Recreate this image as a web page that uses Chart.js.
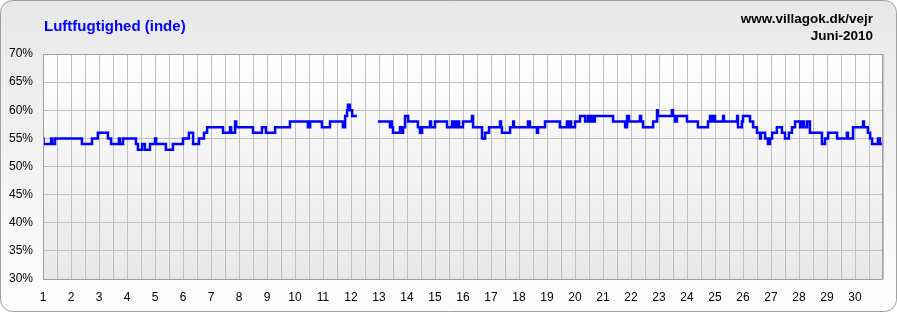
<!doctype html>
<html lang="da">
<head>
  <meta charset="utf-8">
  <title>Luftfugtighed (inde) - Juni 2010</title>
  <script src="https://cdn.jsdelivr.net/npm/chart.js"></script>
  <style>
    html, body { margin: 0; padding: 0; background: #fff; }
    canvas { display: block; }
  </style>
</head>
<body>
  <canvas id="humChart" width="897" height="312"></canvas>

  <script>
    // day of month (fractional) where a new reading starts, and the humidity (%) from there on
    const days = [
      1.00, 1.02, 1.29, 1.33, 1.43, 2.39, 2.75, 2.96, 3.32, 3.43, 3.71, 3.75, 3.86,
      4.32, 4.39, 4.54, 4.64, 4.82, 5.00, 5.04, 5.39, 5.64, 6.00, 6.21, 6.36, 6.57,
      6.75, 6.86, 7.43, 7.68, 7.72, 7.86, 7.90, 8.50, 8.82, 8.96, 9.29, 9.82, 10.46,
      10.54, 10.96, 11.25, 11.71, 11.79, 11.86, 11.89, 11.96, 12.04, 12.21,
      12.50,
      12.96, 13.39, 13.43, 13.46, 13.50, 13.57, 13.75, 13.79, 13.86, 13.93, 14.04,
      14.39, 14.46, 14.54, 14.82, 14.86, 15.00, 15.43, 15.61, 15.64, 15.71, 15.75,
      15.82, 15.86, 16.00, 16.32, 16.36, 16.68, 16.79, 16.93, 17.32, 17.36, 17.39,
      17.68, 17.79, 17.82, 18.32, 18.39, 18.64, 18.68, 18.93, 19.46, 19.71, 19.75,
      19.82, 19.86, 20.00, 20.18, 20.36, 20.46, 20.54, 20.61, 20.64, 20.71, 21.36,
      21.79, 21.86, 21.93, 22.32, 22.36, 22.43, 22.79, 22.93, 22.96, 23.46, 23.50,
      23.57, 23.64, 24.00, 24.39, 24.75, 24.82, 24.86, 24.93, 25.00, 25.29, 25.32,
      25.79, 25.82, 25.96, 26.00, 26.25, 26.36, 26.50, 26.61, 26.64, 26.79, 26.89,
      26.96, 27.04, 27.21, 27.39, 27.50, 27.64, 27.75, 27.86, 28.04, 28.11, 28.18,
      28.29, 28.39, 28.82, 28.93, 29.04, 29.36, 29.71, 29.75, 29.93, 30.29, 30.32,
      30.46, 30.54, 30.61, 30.82, 30.89, 31.00
    ];
    const humidity = [
      55, 54, 55, 54, 55, 54, 55, 56, 55, 54, 55, 54, 55,
      54, 53, 54, 53, 54, 55, 54, 53, 54, 55, 56, 54, 55,
      56, 57, 56, 57, 56, 58, 57, 56, 57, 56, 57, 58, 57,
      58, 57, 58, 57, 59, 60, 61, 60, 59, 59,
      null,
      58, 57, 58, 57, 56, 56, 57, 56, 57, 59, 58,
      57, 56, 57, 58, 57, 58, 57, 58, 57, 58, 57,
      58, 57, 58, 59, 57, 55, 56, 57, 58, 57, 56,
      57, 58, 57, 58, 57, 56, 57, 58, 57, 58, 57,
      58, 57, 58, 59, 58, 59, 58, 59, 58, 59, 58,
      57, 59, 58, 59, 58, 57, 58, 60, 59, 60, 59,
      58, 59, 58, 57, 58, 59, 58, 59, 58, 59, 58,
      59, 57, 58, 59, 58, 57, 56, 55, 56, 55, 54,
      55, 56, 57, 56, 55, 56, 57, 58, 57, 58, 57,
      58, 56, 54, 55, 56, 55, 56, 55, 57, 58, 57,
      56, 55, 54, 55, 54, 54
    ];
    const yTicks = [30, 35, 40, 45, 50, 55, 60, 65, 70];
    const dayLabels = Array.from({ length: 30 }, (_, i) => i + 1);

    const FONT = '"Liberation Sans", Arial, sans-serif';

    // backgrounds, frame and header texts
    const decor = {
      id: 'decor',
      beforeDraw(chart) {
        const { ctx, width, height, chartArea: a } = chart;
        ctx.save();
        const bg = ctx.createLinearGradient(0, 0, 0, height);
        bg.addColorStop(0, '#e8e8e8');
        bg.addColorStop(1, '#fdfdfd');
        ctx.beginPath();
        ctx.roundRect(0.5, 0.5, width - 1, height - 1, 12);
        ctx.fillStyle = bg;
        ctx.fill();
        ctx.strokeStyle = '#a0a0a0';
        ctx.lineWidth = 1;
        ctx.stroke();

        const pg = ctx.createLinearGradient(0, a.top, 0, a.bottom);
        pg.addColorStop(0, '#ffffff');
        pg.addColorStop(1, '#e8e8e8');
        ctx.fillStyle = pg;
        ctx.fillRect(a.left, a.top, a.right - a.left, a.bottom - a.top);
        ctx.restore();
      },
      afterDraw(chart) {
        const { ctx, chartArea: a } = chart;
        ctx.save();
        ctx.strokeStyle = '#a0a0a0';
        ctx.lineWidth = 1;
        ctx.strokeRect(a.left + 0.5, a.top + 0.5, a.right - a.left - 1, a.bottom - a.top);

        ctx.textBaseline = 'alphabetic';
        ctx.fillStyle = '#0000ff';
        ctx.font = 'bold 15px ' + FONT;
        ctx.textAlign = 'left';
        ctx.fillText('Luftfugtighed (inde)', 44, 31);

        ctx.fillStyle = '#000000';
        ctx.font = 'bold 13.5px ' + FONT;
        ctx.textAlign = 'right';
        ctx.fillText('www.villagok.dk/vejr', 873, 23);
        ctx.fillText('Juni-2010', 873, 40);
        ctx.restore();
      }
    };

    const points = days.map((d, i) => ({ x: d, y: humidity[i] }));

    new Chart(document.getElementById('humChart'), {
      type: 'line',
      data: {
        datasets: [{
          data: points,
          borderColor: '#0000ff',
          borderWidth: 2.5,
          pointRadius: 0,
          stepped: true,
          spanGaps: false
        }]
      },
      options: {
        responsive: false,
        animation: false,
        devicePixelRatio: 1,
        layout: { padding: { left: 0, right: 14, top: 54, bottom: 0 } },
        plugins: { legend: { display: false }, tooltip: { enabled: false } },
        scales: {
          x: {
            type: 'linear',
            min: 1,
            max: 31,
            afterBuildTicks: s => {
              s.ticks = [];
              for (let v = 1; v <= 31; v += 0.5) s.ticks.push({ value: v });
            },
            afterFit: s => { s.height = 33; },
            grid: { color: '#c0c0c0', drawTicks: false },
            border: { display: false },
            ticks: {
              autoSkip: false,
              maxRotation: 0,
              padding: 11,
              color: '#000',
              font: { family: FONT, size: 12 },
              callback: v => dayLabels.includes(v) ? String(v) : ''
            }
          },
          y: {
            min: 30,
            max: 70,
            afterBuildTicks: s => { s.ticks = yTicks.map(v => ({ value: v })); },
            afterFit: s => { s.width = 43; },
            grid: { color: '#c0c0c0', drawTicks: false },
            border: { display: false },
            ticks: {
              padding: 10,
              color: '#000',
              font: { family: FONT, size: 12 },
              callback: v => v + '%'
            }
          }
        }
      },
      plugins: [decor]
    });
  </script>
</body>
</html>
